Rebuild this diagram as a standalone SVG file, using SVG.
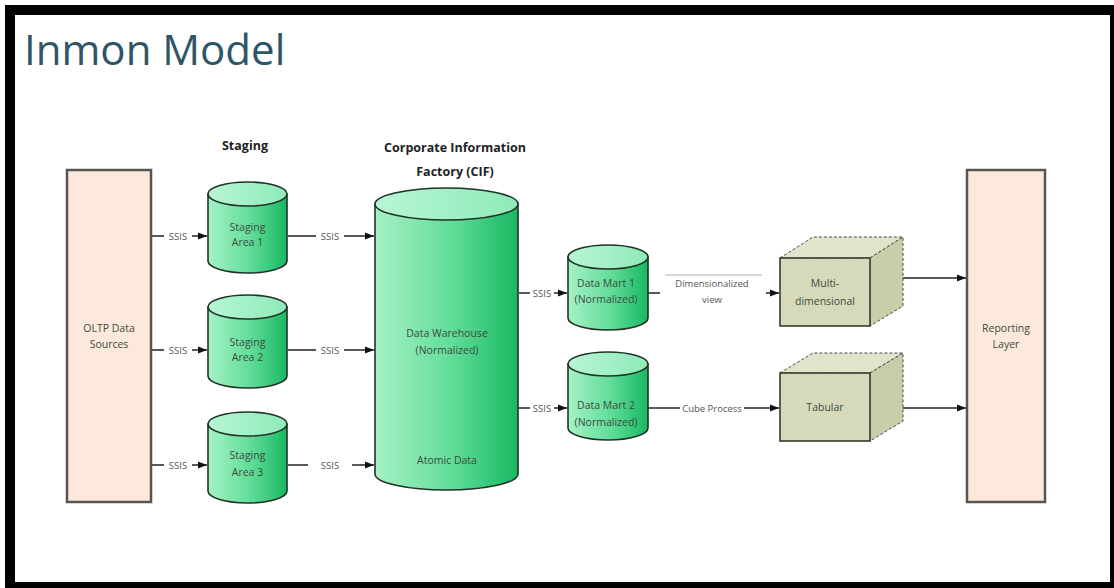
<svg xmlns="http://www.w3.org/2000/svg" width="1114" height="588" viewBox="0 0 1114 588">
  <defs>
    <linearGradient id="cylBody" x1="0" y1="0" x2="1" y2="0">
      <stop offset="0" stop-color="#a6f2c6"/>
      <stop offset="0.55" stop-color="#5fdc98"/>
      <stop offset="1" stop-color="#18b862"/>
    </linearGradient>
    <linearGradient id="cylTop" x1="0" y1="0" x2="1" y2="0">
      <stop offset="0" stop-color="#b8f6d4"/>
      <stop offset="1" stop-color="#8eeab8"/>
    </linearGradient>
    <marker id="arr" viewBox="0 0 10 10" refX="10" refY="5" markerWidth="9" markerHeight="9" markerUnits="userSpaceOnUse" orient="auto">
      <path d="M0,1 L10,5 L0,9 Z" fill="#111"/>
    </marker>
    <style>
      .box{fill:#fde9dc;stroke:#5a5552;stroke-width:2.5}
      .cyl{fill:url(#cylBody);stroke:#1f3326;stroke-width:1.6}
      .cyltop{fill:url(#cylTop);stroke:#1f3326;stroke-width:1.6}
      .node{font-family:"Open Sans","Noto Sans",sans-serif;font-size:10.5px;fill:#3c4a40;text-anchor:middle}
      .head{font-family:"Open Sans","Noto Sans",sans-serif;font-size:12.5px;font-weight:bold;fill:#222;text-anchor:middle}
      .lbl{font-family:"Open Sans","Noto Sans",sans-serif;font-size:9.5px;fill:#555;text-anchor:middle}
      .conn{stroke:#222;stroke-width:1.3;fill:none;marker-end:url(#arr)}
      .lblbg{fill:#fff}
      .front{fill:#d6dabb;stroke:#3a3a30;stroke-width:1.6}
      .top{fill:#e1e4ca;stroke:#4a4a40;stroke-width:1;stroke-dasharray:3 2}
      .side{fill:#c9cdaa;stroke:#4a4a40;stroke-width:1;stroke-dasharray:3 2}
    </style>
  </defs>

  <rect width="1114" height="588" fill="#fff"/>
  <path d="M5,5 H1114 V588 H5 Z M15,15 V582 H1110 V15 Z" fill="#000" fill-rule="evenodd"/>

  <text x="24" y="65" font-family="'Open Sans','Noto Sans',sans-serif" font-weight="400" font-size="42" fill="#2e5568">Inmon Model</text>

  <text class="head" x="245" y="150">Staging</text>
  <text class="head" x="455" y="152">Corporate Information</text>
  <text class="head" x="455" y="176">Factory (CIF)</text>

  <g id="connectors">
    <line class="conn" x1="151" y1="236" x2="207" y2="236"/>
    <line class="conn" x1="151" y1="350" x2="207" y2="350"/>
    <line class="conn" x1="151" y1="465" x2="207" y2="465"/>
    <line class="conn" x1="288" y1="236" x2="374" y2="236"/>
    <line class="conn" x1="288" y1="350" x2="374" y2="350"/>
    <line class="conn" x1="288" y1="465" x2="374" y2="465"/>
    <line class="conn" x1="519" y1="293" x2="567" y2="293"/>
    <line class="conn" x1="519" y1="408" x2="567" y2="408"/>
    <line class="conn" x1="648" y1="293" x2="779" y2="293"/>
    <line class="conn" x1="648" y1="408" x2="779" y2="408"/>
    <line class="conn" x1="903" y1="278" x2="966" y2="278"/>
    <line class="conn" x1="903" y1="408" x2="966" y2="408"/>

    <rect class="lblbg" x="164" y="230" width="28" height="12"/>
    <text class="lbl" x="178" y="239.5">SSIS</text>
    <rect class="lblbg" x="164" y="344" width="28" height="12"/>
    <text class="lbl" x="178" y="353.5">SSIS</text>
    <rect class="lblbg" x="164" y="459" width="28" height="12"/>
    <text class="lbl" x="178" y="468.5">SSIS</text>
    <rect class="lblbg" x="316" y="230" width="28" height="12"/>
    <text class="lbl" x="330" y="239.5">SSIS</text>
    <rect class="lblbg" x="316" y="344" width="28" height="12"/>
    <text class="lbl" x="330" y="353.5">SSIS</text>
    <rect class="lblbg" x="308" y="459" width="44" height="12"/>
    <text class="lbl" x="330" y="468.5">SSIS</text>
    <rect class="lblbg" x="530" y="287" width="24" height="12"/>
    <text class="lbl" x="542" y="296.5">SSIS</text>
    <rect class="lblbg" x="530" y="402" width="24" height="12"/>
    <text class="lbl" x="542" y="411.5">SSIS</text>
    <rect class="lblbg" x="660" y="274" width="106" height="30"/>
    <line x1="665" y1="275" x2="762" y2="275" stroke="#999" stroke-width="0.8"/>
    <text class="lbl" x="712" y="287">Dimensionalized</text>
    <text class="lbl" x="712" y="303">view</text>
    <rect class="lblbg" x="680" y="402" width="64" height="12"/>
    <text class="lbl" x="712" y="411.5">Cube Process</text>
  </g>

  <g id="oltp">
    <rect class="box" x="67" y="170" width="84" height="332"/>
    <text class="node" x="109" y="332">OLTP Data</text>
    <text class="node" x="109" y="348">Sources</text>
  </g>

  <g id="staging1">
    <path class="cyl" d="M208,194 V261 A39.5,12 0 0 0 287,261 V194 Z"/>
    <ellipse class="cyltop" cx="247.5" cy="194" rx="39.5" ry="12"/>
    <text class="node" x="247.5" y="231">Staging</text>
    <text class="node" x="247.5" y="246">Area 1</text>
  </g>
  <g id="staging2">
    <path class="cyl" d="M208,307 V376 A39.5,12 0 0 0 287,376 V307 Z"/>
    <ellipse class="cyltop" cx="247.5" cy="307" rx="39.5" ry="12"/>
    <text class="node" x="247.5" y="346">Staging</text>
    <text class="node" x="247.5" y="361">Area 2</text>
  </g>
  <g id="staging3">
    <path class="cyl" d="M208,424 V491 A39.5,12 0 0 0 287,491 V424 Z"/>
    <ellipse class="cyltop" cx="247.5" cy="424" rx="39.5" ry="12"/>
    <text class="node" x="247.5" y="459">Staging</text>
    <text class="node" x="247.5" y="476">Area 3</text>
  </g>

  <g id="dw">
    <path class="cyl" d="M375,204 V474 A71.5,16 0 0 0 518,474 V204 Z"/>
    <ellipse class="cyltop" cx="446.5" cy="204" rx="71.5" ry="16"/>
    <text class="node" x="447" y="337">Data Warehouse</text>
    <text class="node" x="447" y="354">(Normalized)</text>
    <text class="node" x="447" y="464">Atomic Data</text>
  </g>

  <g id="datamart1">
    <path class="cyl" d="M568,257 V318 A40,12 0 0 0 648,318 V257 Z"/>
    <ellipse class="cyltop" cx="608" cy="257" rx="40" ry="12"/>
    <text class="node" x="606" y="287">Data Mart 1</text>
    <text class="node" x="606" y="303">(Normalized)</text>
  </g>
  <g id="datamart2">
    <path class="cyl" d="M568,364 V428 A40,12 0 0 0 648,428 V364 Z"/>
    <ellipse class="cyltop" cx="608" cy="364" rx="40" ry="12"/>
    <text class="node" x="606" y="409">Data Mart 2</text>
    <text class="node" x="606" y="426">(Normalized)</text>
  </g>

  <g id="multidim">
    <polygon class="top" points="780,258 813,237 903,237 870,258"/>
    <polygon class="side" points="870,258 903,237 903,306 870,326"/>
    <rect class="front" x="780" y="258" width="90" height="68"/>
    <text class="node" x="825" y="287">Multi-</text>
    <text class="node" x="825" y="305">dimensional</text>
  </g>
  <g id="tabular">
    <polygon class="top" points="780,373 813,353 903,353 870,373"/>
    <polygon class="side" points="870,373 903,353 903,421 870,441"/>
    <rect class="front" x="780" y="373" width="90" height="68"/>
    <text class="node" x="825" y="411">Tabular</text>
  </g>

  <g id="reporting">
    <rect class="box" x="967" y="170" width="78" height="332"/>
    <text class="node" x="1006" y="332">Reporting</text>
    <text class="node" x="1006" y="348">Layer</text>
  </g>
</svg>
